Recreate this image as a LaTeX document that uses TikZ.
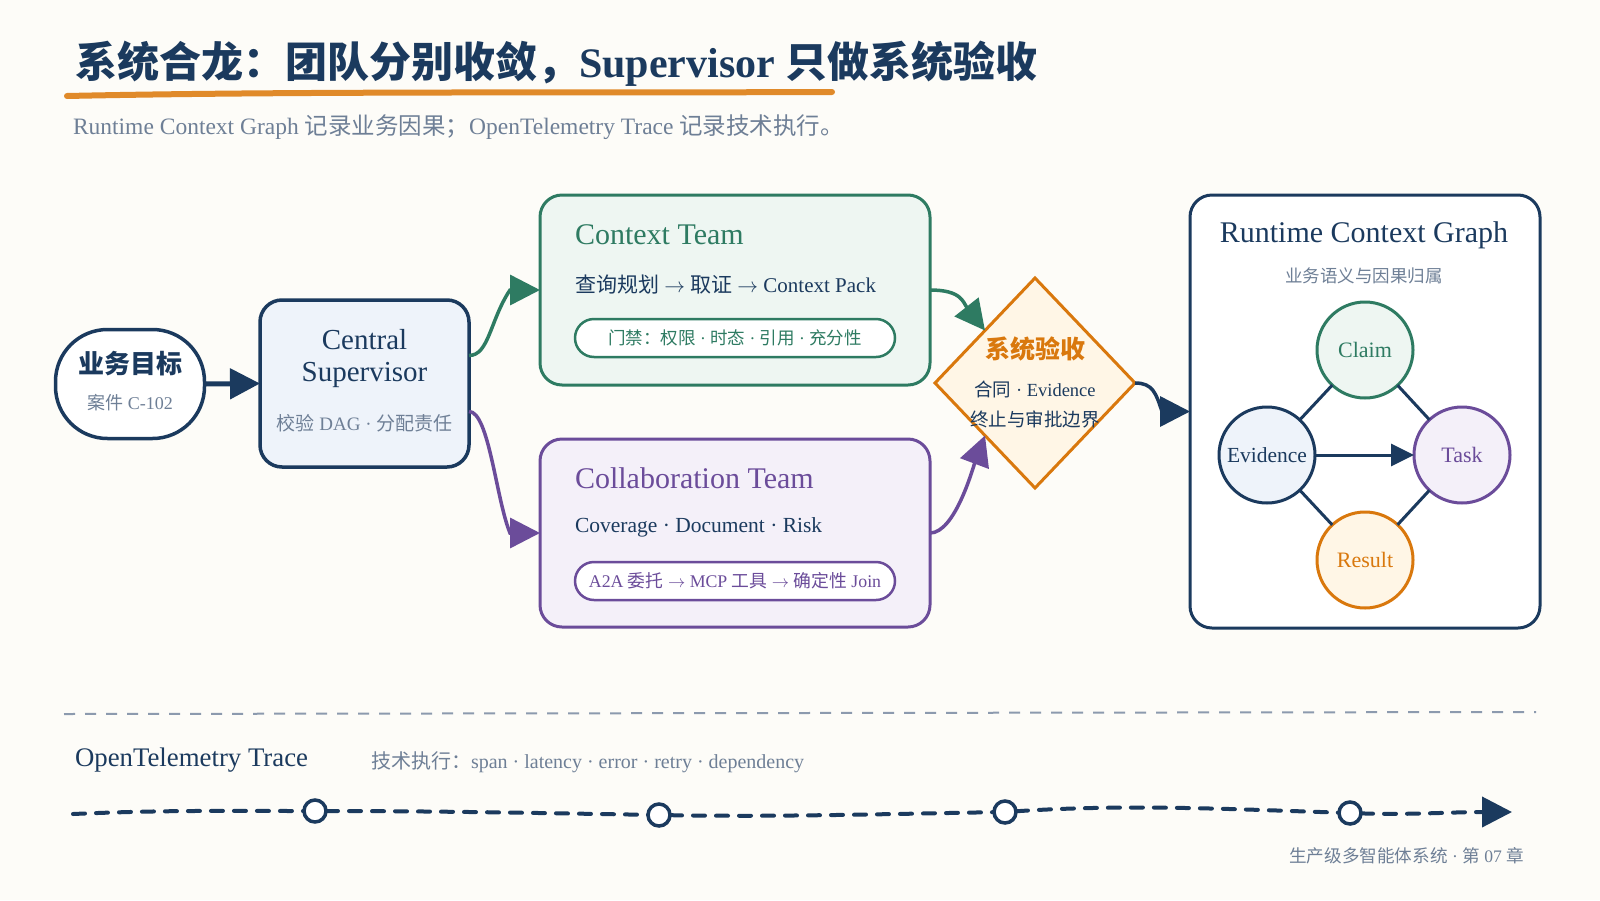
\documentclass[tikz,border=0pt]{standalone}
\usepackage{fontspec}
\setmainfont{Liberation Serif}
\newfontfamily\cjk{Noto Sans CJK SC}
\usetikzlibrary{arrows.meta,shapes.geometric}
\definecolor{bg}{HTML}{FDFCF8}
\definecolor{navy}{HTML}{1B3A5E}
\definecolor{grey}{HTML}{6E7F96}
\definecolor{grn}{HTML}{2E7B62}
\definecolor{pur}{HTML}{6B4C9A}
\definecolor{org}{HTML}{D9780D}
\definecolor{uline}{HTML}{E08A2A}
\definecolor{fblue}{HTML}{EEF3FA}
\definecolor{fgrn}{HTML}{EEF6F2}
\definecolor{fpur}{HTML}{F4F0F9}
\definecolor{forg}{HTML}{FFF6E6}
\definecolor{sepc}{HTML}{8C9AAE}
\newcommand\zh[1]{{\cjk #1}}
\newcommand\fs[1]{\fontsize{#1}{#1}\selectfont}
\begin{document}
\begin{tikzpicture}[x=1pt,y=-1pt,
  every node/.style={inner sep=0pt, outer sep=0pt},
  rbox/.style={draw, rounded corners=22pt, line width=3pt},
  bigtip/.style={-{Triangle[length=30pt,width=30pt]}},
  conn/.style={line width=3.5pt, bigtip},
  pill/.style={draw, fill=white, rounded corners=19pt, line width=2.5pt, minimum width=320pt, minimum height=38pt},
  gnode/.style={circle, line width=3pt, minimum size=96pt, draw},
  gedge/.style={navy, line width=3pt},
  tnode/.style={circle, draw=navy, fill=white, line width=3.5pt, minimum size=22pt},
  trace/.style={navy, line width=4pt, line cap=round, dash pattern=on 12pt off 11pt},
]
\fill[bg] (0,0) rectangle (1600,900);
\useasboundingbox (0,0) rectangle (1600,900);

% title
\node[anchor=base west, text=navy] (title) at (75,77) {\fs{42}\bfseries\zh{系统合龙：团队分别收敛，}Supervisor \zh{只做系统验收}};
\coordinate (ulA) at (67,96);
\coordinate (ulB) at (832,92);
\draw[uline, line width=6pt, line cap=round] (ulA) .. controls (300,91) and (600,93) .. (ulB);
\node[anchor=base west, text=grey] (subtitle) at (73,134) {\fs{23.5}Runtime Context Graph \zh{记录业务因果；}OpenTelemetry Trace \zh{记录技术执行。}};

% goal
\node[draw=navy, fill=white, line width=3.5pt, rounded corners=52pt, minimum width=149pt, minimum height=109pt] (goal) at (130,384) {};
\node[text=navy] (goalT) at (130,364) {\fs{26}\bfseries\zh{业务目标}};
\node[text=grey] (goalS) at (130,403) {\fs{18}\zh{案件} C-102};

% supervisor
\node[rbox, draw=navy, fill=fblue, line width=3.5pt, minimum width=209pt, minimum height=167pt] (sup) at (364.5,383.5) {};
\node[text=navy] (supT1) at (364.5,340) {\fs{29}Central};
\node[text=navy] (supT2) at (364.5,375) {\fs{29}Supervisor};
\node[text=grey] (supS) at (364.5,423) {\fs{19}\zh{校验} DAG · \zh{分配责任}};

% context team
\node[rbox, draw=grn, fill=fgrn, minimum width=390pt, minimum height=190pt] (ctx) at (735,290) {};
\node[anchor=west, text=grn] (ctxT) at (575,235) {\fs{30}Context Team};
\node[anchor=west, text=navy] (ctxS) at (575,285) {\fs{21}\zh{查询规划} $\to$ \zh{取证} $\to$ Context Pack};
\node[pill, draw=grn] (ctxP) at (735,338) {};
\node[text=grn] (ctxPT) at (735,338) {\fs{17.5}\zh{门禁：权限} · \zh{时态} · \zh{引用} · \zh{充分性}};

% collaboration team
\node[rbox, draw=pur, fill=fpur, minimum width=390pt, minimum height=188pt] (col) at (735,533) {};
\node[anchor=west, text=pur] (colT) at (575,478) {\fs{30}Collaboration Team};
\node[anchor=west, text=navy] (colS) at (575,527) {\fs{21.5}Coverage · Document · Risk};
\node[pill, draw=pur] (colP) at (735,581) {};
\node[text=pur] (colPT) at (735,581) {\fs{17.8}A2A \zh{委托} $\to$ MCP \zh{工具} $\to$ \zh{确定性} Join};

% diamond
\node[diamond, draw=org, fill=forg, line width=3pt, minimum width=200pt, minimum height=210pt] (dia) at (1035,383) {};
\node[text=org] (diaT) at (1035,349) {\fs{25}\bfseries\zh{系统验收}};
\node[text=navy] (diaS1) at (1035,389) {\fs{18.5}\zh{合同} · Evidence};
\node[text=navy] (diaS2) at (1035,419) {\fs{18.5}\zh{终止与审批边界}};

% runtime context graph
\node[rbox, draw=navy, fill=white, minimum width=350pt, minimum height=433pt] (rcg) at (1365,411.5) {};
\node[text=navy] (rcgT) at (1364,235) {\fs{30}Runtime Context Graph};
\node[text=grey] (rcgS) at (1364,276) {\fs{17.5}\zh{业务语义与因果归属}};
\node[gnode, draw=grn, fill=fgrn] (cl) at (1365,350) {};
\node[gnode, draw=navy, fill=fblue] (ev) at (1267,455) {};
\node[gnode, draw=pur, fill=fpur] (tk) at (1462,455) {};
\node[gnode, draw=org, fill=forg] (rs) at (1365,560) {};
\node[text=grn] (clT) at (1365,350) {\fs{22}Claim};
\node[text=navy] (evT) at (1267,455) {\fs{21.5}Evidence};
\node[text=pur] (tkT) at (1462,455) {\fs{22}Task};
\node[text=org] (rsT) at (1365,560) {\fs{22}Result};
\draw[gedge] (ev) -- (cl);
\draw[gedge] (cl) -- (tk);
\draw[gedge, -{Triangle[length=23pt,width=22pt]}] (ev) -- (tk);
\draw[gedge] (ev) -- (rs);
\draw[gedge] (tk) -- (rs);

% connectors (last straight piece is covered by the tip)
\draw[conn, navy, line width=5pt] (goal.east) -- (sup.west);
\draw[conn, grn] ([yshift=28pt]sup.east) .. controls +(20,0) and +(-20,30) .. ([xshift=-30pt]ctx.west) -- (ctx.west);
\draw[conn, pur] ([yshift=-28pt]sup.east) .. controls +(20,0) and +(-14,-34) .. ([xshift=-30pt]col.west) -- (col.west);
\draw[conn, grn] (ctx.east) .. controls +(32,0) and +(-22,-28) .. (dia.north west);
\draw[conn, pur] (col.east) .. controls +(25,0) and +(-12,32) .. (dia.south west);
\draw[conn, navy] (dia.east) .. controls +(18,0) and +(-6,-18) .. ([xshift=-28pt]rcg.west) -- (rcg.west);

% separator
\coordinate (sepL) at (64,714);
\coordinate (sepR) at (1536,712);
\draw[sepc, line width=2pt, dash pattern=on 11pt off 10pt] (sepL) -- (sepR);

% trace
\node[anchor=west, text=navy] (otT) at (75,760) {\fs{26.8}OpenTelemetry Trace};
\node[anchor=west, text=grey] (otS) at (371,762) {\fs{20}\zh{技术执行：}span · latency · error · retry · dependency};
\node[tnode] (t1) at (315,811) {};
\node[tnode] (t2) at (659,815) {};
\node[tnode] (t3) at (1005,812) {};
\node[tnode] (t4) at (1350,813) {};
\coordinate (trS) at (73,814);
\coordinate (trE) at (1512,812);
\draw[trace] (trS) .. controls +(90,-4) and +(-90,0) .. (t1);
\draw[trace] (t1) .. controls +(120,0) and +(-120,-2) .. (t2);
\draw[trace] (t2) .. controls +(120,2) and +(-120,2) .. (t3);
\draw[trace] (t3) .. controls +(120,-8) and +(-120,-4) .. (t4);
\draw[trace, -{Triangle[length=30pt,width=30pt]}] (t4) .. controls +(60,2) and +(-60,0) .. (trE);

% footer
\node[anchor=east, text=grey] (foot) at (1524,856) {\fs{17.6}\zh{生产级多智能体系统} · \zh{第} 07 \zh{章}};
\end{tikzpicture}
\end{document}
